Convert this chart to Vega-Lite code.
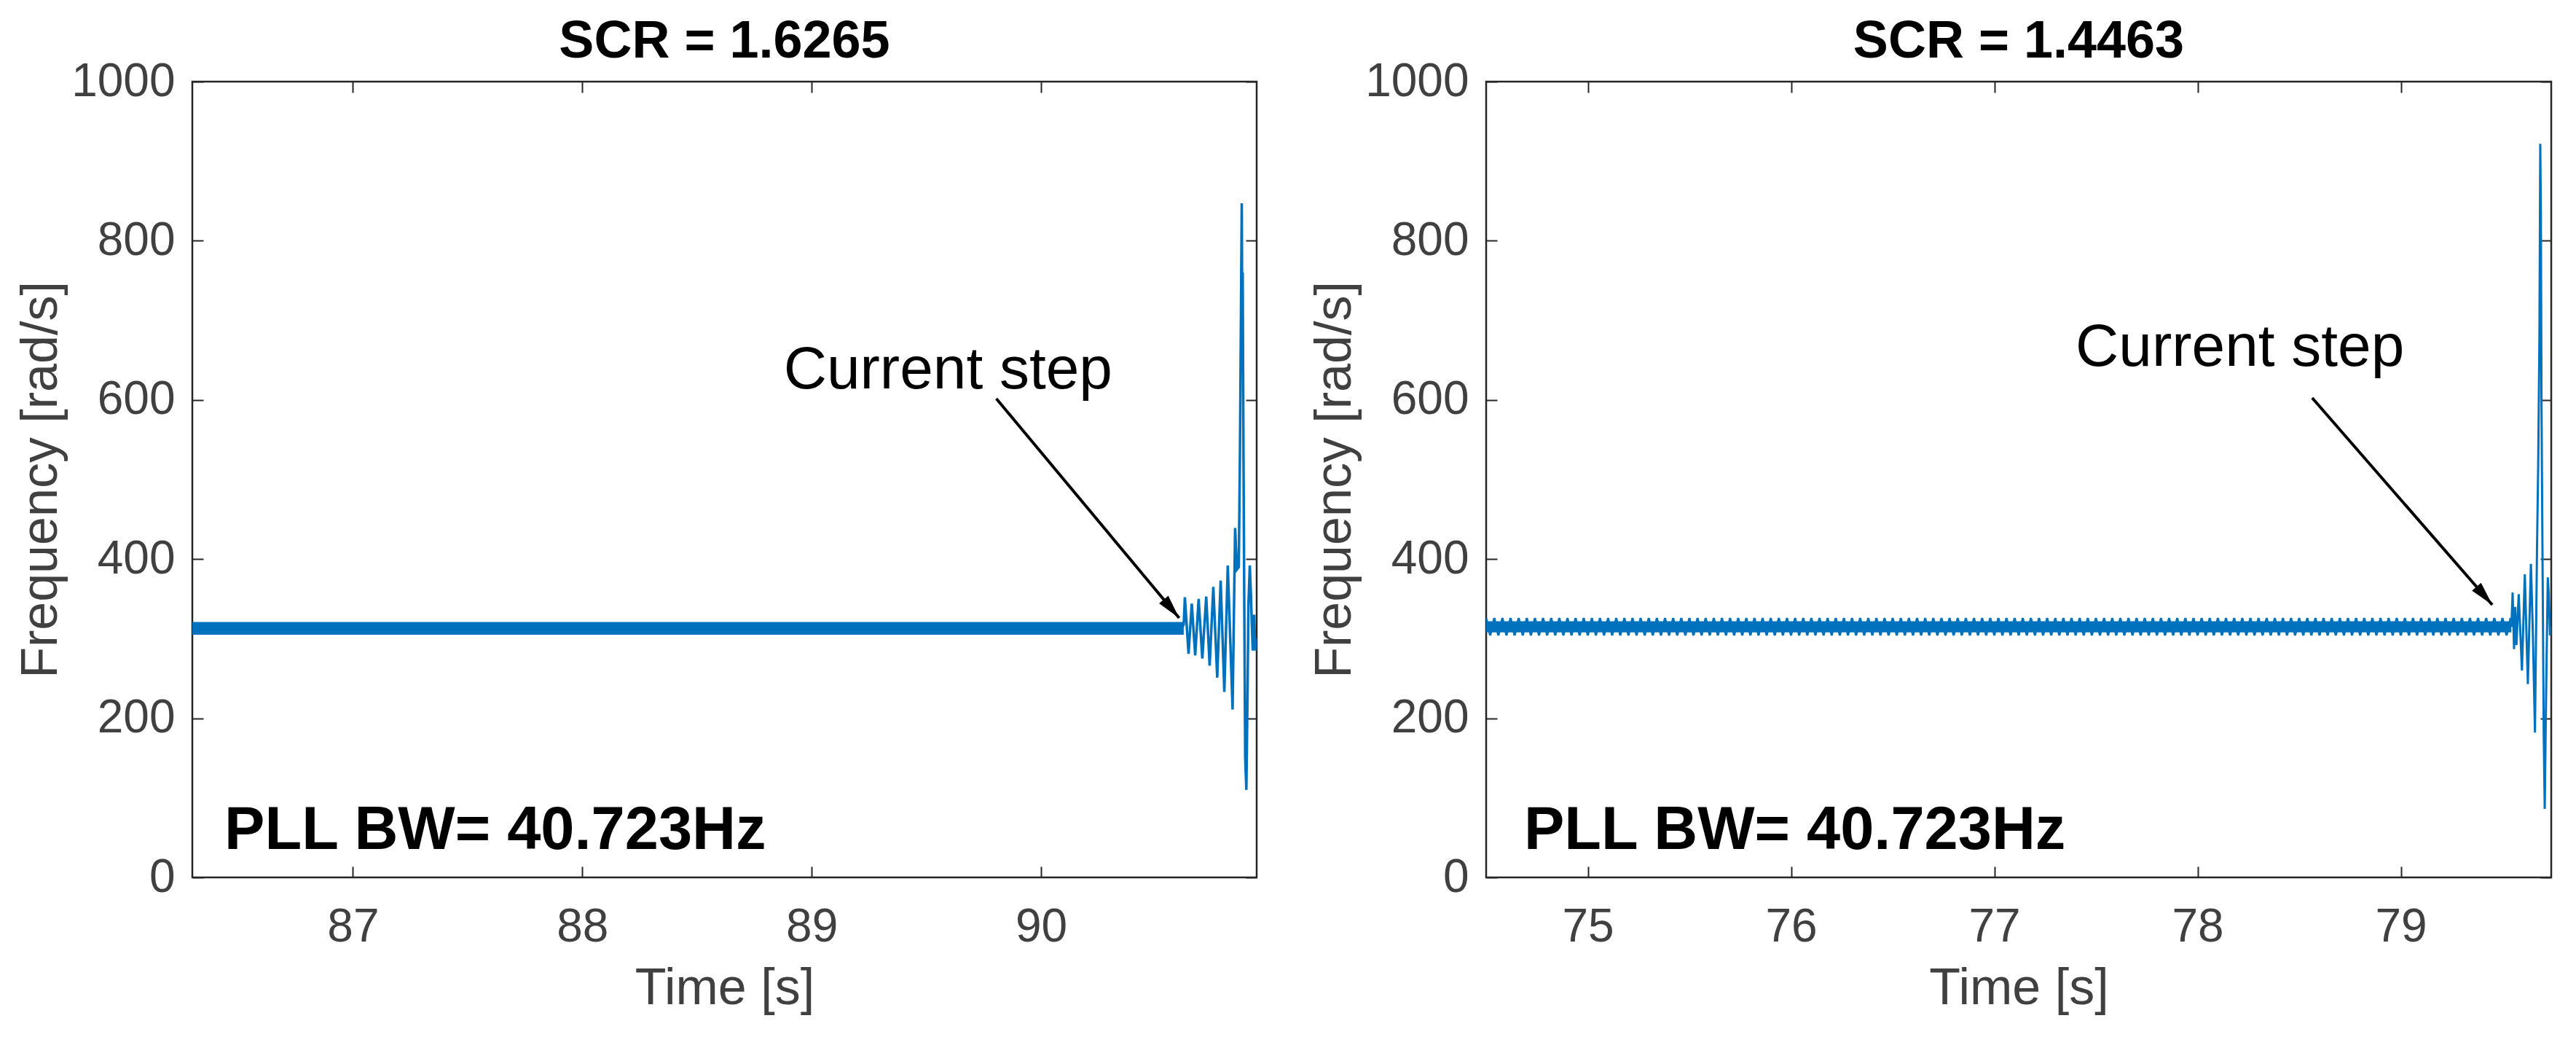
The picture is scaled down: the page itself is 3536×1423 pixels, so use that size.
{
  "$schema": "https://vega.github.io/schema/vega-lite/v6.json",
  "background": "white",
  "padding": {"left": 20, "top": 19, "right": 0, "bottom": 0},
  "spacing": 68,
  "config": {
    "font": "Liberation Sans",
    "view": {"stroke": "#262626", "strokeWidth": 2.5},
    "axis": {"domain": false, "grid": false, "ticks": true, "tickSize": -15, "tickWidth": 2, "tickColor": "#262626",
      "labelFont": "Liberation Sans", "labelFontSize": 64, "labelColor": "#404040",
      "titleFont": "Liberation Sans", "titleFontSize": 70, "titleFontWeight": "normal", "titleColor": "#404040"},
    "title": {"font": "Liberation Sans", "fontSize": 72, "fontWeight": "bold", "color": "#000000", "offset": -14}
  },
  "hconcat": [
    {
      "width": 1461, "height": 1092,
      "title": {"text": "SCR = 1.6265"},
      "layer": [
        {
          "data": {"values": [{"t": 86.3, "lo": 305, "hi": 321}, {"t": 90.622, "lo": 305, "hi": 321}]},
          "mark": {"type": "area", "color": "#0072BD", "clip": true},
          "encoding": {
            "x": {"field": "t", "type": "quantitative", "scale": {"domain": [86.3, 90.94], "nice": false, "zero": false},
              "axis": {"orient": "bottom", "values": [87, 88, 89, 90], "format": "d", "labelPadding": 51, "title": "Time [s]", "titlePadding": 18}},
            "y": {"field": "lo", "type": "quantitative", "scale": {"domain": [0, 1000], "nice": false},
              "axis": {"orient": "left", "values": [0, 200, 400, 600, 800, 1000], "format": "d", "labelPadding": 39, "title": "Frequency [rad/s]", "titlePadding": 5}},
            "y2": {"field": "hi"}
          }
        },
        {
          "data": {"values": [
            {"t": 90.615, "f": 314}, {"t": 90.622, "f": 318}, {"t": 90.627, "f": 352}, {"t": 90.643, "f": 281},
            {"t": 90.657, "f": 344}, {"t": 90.672, "f": 279}, {"t": 90.687, "f": 350}, {"t": 90.703, "f": 275},
            {"t": 90.72, "f": 353}, {"t": 90.735, "f": 266}, {"t": 90.751, "f": 365}, {"t": 90.768, "f": 251},
            {"t": 90.783, "f": 373}, {"t": 90.799, "f": 233}, {"t": 90.814, "f": 392}, {"t": 90.835, "f": 211},
            {"t": 90.846, "f": 439}, {"t": 90.854, "f": 387}, {"t": 90.862, "f": 390}, {"t": 90.867, "f": 531},
            {"t": 90.872, "f": 726}, {"t": 90.875, "f": 847}, {"t": 90.877, "f": 700}, {"t": 90.879, "f": 760},
            {"t": 90.882, "f": 560}, {"t": 90.886, "f": 342}, {"t": 90.89, "f": 150}, {"t": 90.895, "f": 110},
            {"t": 90.9, "f": 227}, {"t": 90.904, "f": 342}, {"t": 90.91, "f": 392}, {"t": 90.915, "f": 355},
            {"t": 90.919, "f": 317}, {"t": 90.923, "f": 285}, {"t": 90.929, "f": 330}, {"t": 90.934, "f": 285},
            {"t": 90.94, "f": 300}
          ]},
          "mark": {"type": "line", "color": "#0072BD", "strokeWidth": 3.5, "clip": true},
          "encoding": {
            "x": {"field": "t", "type": "quantitative", "axis": {"orient": "top", "values": [87, 88, 89, 90], "labels": false, "title": null}},
            "y": {"field": "f", "type": "quantitative", "axis": {"orient": "right", "values": [0, 200, 400, 600, 800, 1000], "labels": false, "title": null}}
          }
        },
        {
          "data": {"values": [{"t": 89.805, "f": 601.6, "t2": 90.602, "f2": 326}]},
          "mark": {"type": "rule", "color": "black", "strokeWidth": 4},
          "encoding": {
            "x": {"field": "t", "type": "quantitative", "axis": null},
            "y": {"field": "f", "type": "quantitative", "axis": null},
            "x2": {"field": "t2"}, "y2": {"field": "f2"}
          }
        },
        {
          "data": {"values": [{"t": 90.602, "f": 326}]},
          "mark": {"type": "point", "shape": "M0,0L0.25,1L-0.25,1Z", "filled": true, "color": "black", "opacity": 1, "size": 4356, "angle": 140},
          "encoding": {
            "x": {"field": "t", "type": "quantitative", "axis": null},
            "y": {"field": "f", "type": "quantitative", "axis": null}
          }
        },
        {
          "data": {"values": [{"t": 88.878, "f": 614.5, "label": "Current step"}]},
          "mark": {"type": "text", "align": "left", "baseline": "alphabetic", "fontSize": 82, "font": "Liberation Sans", "color": "black"},
          "encoding": {
            "x": {"field": "t", "type": "quantitative", "axis": null},
            "y": {"field": "f", "type": "quantitative", "axis": null},
            "text": {"field": "label"}
          }
        },
        {
          "data": {"values": [{"t": 86.44, "f": 35.7, "label": "PLL BW= 40.723Hz"}]},
          "mark": {"type": "text", "align": "left", "baseline": "alphabetic", "fontSize": 83, "fontWeight": "bold", "font": "Liberation Sans", "color": "black"},
          "encoding": {
            "x": {"field": "t", "type": "quantitative", "axis": null},
            "y": {"field": "f", "type": "quantitative", "axis": null},
            "text": {"field": "label"}
          }
        }
      ],
      "resolve": {"axis": {"x": "independent", "y": "independent"}}
    },
    {
      "width": 1462, "height": 1092,
      "title": {"text": "SCR = 1.4463"},
      "layer": [
        {
          "data": {"values": [{"t": 74.5, "lo": 308, "hi": 322}, {"t": 79.544, "lo": 308, "hi": 322}]},
          "mark": {"type": "area", "color": "#0072BD", "clip": true},
          "encoding": {
            "x": {"field": "t", "type": "quantitative", "scale": {"domain": [74.5, 79.74], "nice": false, "zero": false},
              "axis": {"orient": "bottom", "values": [75, 76, 77, 78, 79], "format": "d", "labelPadding": 51, "title": "Time [s]", "titlePadding": 18}},
            "y": {"field": "lo", "type": "quantitative", "scale": {"domain": [0, 1000], "nice": false},
              "axis": {"orient": "left", "values": [0, 200, 400, 600, 800, 1000], "format": "d", "labelPadding": 39, "title": "Frequency [rad/s]", "titlePadding": 5}},
            "y2": {"field": "hi"}
          }
        },
        {
          "data": {"values": [
            {"t":74.50,"f":326},{"t":74.52,"f":304},{"t":74.54,"f":326},{"t":74.56,"f":304},{"t":74.58,"f":326},{"t":74.60,"f":304},{"t":74.62,"f":326},{"t":74.64,"f":304},{"t":74.66,"f":326},{"t":74.68,"f":304},{"t":74.70,"f":326},{"t":74.72,"f":304},{"t":74.74,"f":326},{"t":74.76,"f":304},{"t":74.78,"f":326},{"t":74.80,"f":304},{"t":74.82,"f":326},{"t":74.84,"f":304},{"t":74.86,"f":326},{"t":74.88,"f":304},{"t":74.90,"f":326},{"t":74.92,"f":304},{"t":74.94,"f":326},{"t":74.96,"f":304},{"t":74.98,"f":326},
            {"t":75.00,"f":304},{"t":75.02,"f":326},{"t":75.04,"f":304},{"t":75.06,"f":326},{"t":75.08,"f":304},{"t":75.10,"f":326},{"t":75.12,"f":304},{"t":75.14,"f":326},{"t":75.16,"f":304},{"t":75.18,"f":326},{"t":75.20,"f":304},{"t":75.22,"f":326},{"t":75.24,"f":304},{"t":75.26,"f":326},{"t":75.28,"f":304},{"t":75.30,"f":326},{"t":75.32,"f":304},{"t":75.34,"f":326},{"t":75.36,"f":304},{"t":75.38,"f":326},{"t":75.40,"f":304},{"t":75.42,"f":326},{"t":75.44,"f":304},{"t":75.46,"f":326},{"t":75.48,"f":304},{"t":75.50,"f":326},{"t":75.52,"f":304},{"t":75.54,"f":326},{"t":75.56,"f":304},{"t":75.58,"f":326},{"t":75.60,"f":304},{"t":75.62,"f":326},{"t":75.64,"f":304},{"t":75.66,"f":326},{"t":75.68,"f":304},{"t":75.70,"f":326},{"t":75.72,"f":304},{"t":75.74,"f":326},{"t":75.76,"f":304},{"t":75.78,"f":326},{"t":75.80,"f":304},{"t":75.82,"f":326},{"t":75.84,"f":304},{"t":75.86,"f":326},{"t":75.88,"f":304},{"t":75.90,"f":326},{"t":75.92,"f":304},{"t":75.94,"f":326},{"t":75.96,"f":304},{"t":75.98,"f":326},
            {"t":76.00,"f":304},{"t":76.02,"f":326},{"t":76.04,"f":304},{"t":76.06,"f":326},{"t":76.08,"f":304},{"t":76.10,"f":326},{"t":76.12,"f":304},{"t":76.14,"f":326},{"t":76.16,"f":304},{"t":76.18,"f":326},{"t":76.20,"f":304},{"t":76.22,"f":326},{"t":76.24,"f":304},{"t":76.26,"f":326},{"t":76.28,"f":304},{"t":76.30,"f":326},{"t":76.32,"f":304},{"t":76.34,"f":326},{"t":76.36,"f":304},{"t":76.38,"f":326},{"t":76.40,"f":304},{"t":76.42,"f":326},{"t":76.44,"f":304},{"t":76.46,"f":326},{"t":76.48,"f":304},{"t":76.50,"f":326},{"t":76.52,"f":304},{"t":76.54,"f":326},{"t":76.56,"f":304},{"t":76.58,"f":326},{"t":76.60,"f":304},{"t":76.62,"f":326},{"t":76.64,"f":304},{"t":76.66,"f":326},{"t":76.68,"f":304},{"t":76.70,"f":326},{"t":76.72,"f":304},{"t":76.74,"f":326},{"t":76.76,"f":304},{"t":76.78,"f":326},{"t":76.80,"f":304},{"t":76.82,"f":326},{"t":76.84,"f":304},{"t":76.86,"f":326},{"t":76.88,"f":304},{"t":76.90,"f":326},{"t":76.92,"f":304},{"t":76.94,"f":326},{"t":76.96,"f":304},{"t":76.98,"f":326},
            {"t":77.00,"f":304},{"t":77.02,"f":326},{"t":77.04,"f":304},{"t":77.06,"f":326},{"t":77.08,"f":304},{"t":77.10,"f":326},{"t":77.12,"f":304},{"t":77.14,"f":326},{"t":77.16,"f":304},{"t":77.18,"f":326},{"t":77.20,"f":304},{"t":77.22,"f":326},{"t":77.24,"f":304},{"t":77.26,"f":326},{"t":77.28,"f":304},{"t":77.30,"f":326},{"t":77.32,"f":304},{"t":77.34,"f":326},{"t":77.36,"f":304},{"t":77.38,"f":326},{"t":77.40,"f":304},{"t":77.42,"f":326},{"t":77.44,"f":304},{"t":77.46,"f":326},{"t":77.48,"f":304},{"t":77.50,"f":326},{"t":77.52,"f":304},{"t":77.54,"f":326},{"t":77.56,"f":304},{"t":77.58,"f":326},{"t":77.60,"f":304},{"t":77.62,"f":326},{"t":77.64,"f":304},{"t":77.66,"f":326},{"t":77.68,"f":304},{"t":77.70,"f":326},{"t":77.72,"f":304},{"t":77.74,"f":326},{"t":77.76,"f":304},{"t":77.78,"f":326},{"t":77.80,"f":304},{"t":77.82,"f":326},{"t":77.84,"f":304},{"t":77.86,"f":326},{"t":77.88,"f":304},{"t":77.90,"f":326},{"t":77.92,"f":304},{"t":77.94,"f":326},{"t":77.96,"f":304},{"t":77.98,"f":326},
            {"t":78.00,"f":304},{"t":78.02,"f":326},{"t":78.04,"f":304},{"t":78.06,"f":326},{"t":78.08,"f":304},{"t":78.10,"f":326},{"t":78.12,"f":304},{"t":78.14,"f":326},{"t":78.16,"f":304},{"t":78.18,"f":326},{"t":78.20,"f":304},{"t":78.22,"f":326},{"t":78.24,"f":304},{"t":78.26,"f":326},{"t":78.28,"f":304},{"t":78.30,"f":326},{"t":78.32,"f":304},{"t":78.34,"f":326},{"t":78.36,"f":304},{"t":78.38,"f":326},{"t":78.40,"f":304},{"t":78.42,"f":326},{"t":78.44,"f":304},{"t":78.46,"f":326},{"t":78.48,"f":304},{"t":78.50,"f":326},{"t":78.52,"f":304},{"t":78.54,"f":326},{"t":78.56,"f":304},{"t":78.58,"f":326},{"t":78.60,"f":304},{"t":78.62,"f":326},{"t":78.64,"f":304},{"t":78.66,"f":326},{"t":78.68,"f":304},{"t":78.70,"f":326},{"t":78.72,"f":304},{"t":78.74,"f":326},{"t":78.76,"f":304},{"t":78.78,"f":326},{"t":78.80,"f":304},{"t":78.82,"f":326},{"t":78.84,"f":304},{"t":78.86,"f":326},{"t":78.88,"f":304},{"t":78.90,"f":326},{"t":78.92,"f":304},{"t":78.94,"f":326},{"t":78.96,"f":304},{"t":78.98,"f":326},
            {"t":79.00,"f":304},{"t":79.02,"f":326},{"t":79.04,"f":304},{"t":79.06,"f":326},{"t":79.08,"f":304},{"t":79.10,"f":326},{"t":79.12,"f":304},{"t":79.14,"f":326},{"t":79.16,"f":304},{"t":79.18,"f":326},{"t":79.20,"f":304},{"t":79.22,"f":326},{"t":79.24,"f":304},{"t":79.26,"f":326},{"t":79.28,"f":304},{"t":79.30,"f":326},{"t":79.32,"f":304},{"t":79.34,"f":326},{"t":79.36,"f":304},{"t":79.38,"f":326},{"t":79.40,"f":304},{"t":79.42,"f":326},{"t":79.44,"f":304},{"t":79.46,"f":326},{"t":79.48,"f":304},{"t":79.50,"f":326},{"t":79.52,"f":304},{"t":79.54,"f":326},
            {"t":79.544,"f":315},{"t":79.55,"f":358},{"t":79.557,"f":287},{"t":79.563,"f":340},{"t":79.569,"f":292},{"t":79.58,"f":356},{"t":79.596,"f":260},{"t":79.61,"f":381},{"t":79.625,"f":243},{"t":79.64,"f":394},{"t":79.65,"f":304},{"t":79.66,"f":182},{"t":79.67,"f":413},{"t":79.676,"f":521},{"t":79.682,"f":681},{"t":79.686,"f":922},{"t":79.689,"f":840},{"t":79.692,"f":600},{"t":79.697,"f":407},{"t":79.703,"f":182},{"t":79.708,"f":86},{"t":79.714,"f":214},{"t":79.723,"f":377},{"t":79.728,"f":355},{"t":79.734,"f":304},{"t":79.74,"f":315}
          ]},
          "mark": {"type": "line", "color": "#0072BD", "strokeWidth": 3, "clip": true},
          "encoding": {
            "x": {"field": "t", "type": "quantitative", "axis": {"orient": "top", "values": [75, 76, 77, 78, 79], "labels": false, "title": null}},
            "y": {"field": "f", "type": "quantitative", "axis": {"orient": "right", "values": [0, 200, 400, 600, 800, 1000], "labels": false, "title": null}}
          }
        },
        {
          "data": {"values": [{"t": 78.564, "f": 602.6, "t2": 79.45, "f2": 342.5}]},
          "mark": {"type": "rule", "color": "black", "strokeWidth": 4},
          "encoding": {
            "x": {"field": "t", "type": "quantitative", "axis": null},
            "y": {"field": "f", "type": "quantitative", "axis": null},
            "x2": {"field": "t2"}, "y2": {"field": "f2"}
          }
        },
        {
          "data": {"values": [{"t": 79.45, "f": 342.5}]},
          "mark": {"type": "point", "shape": "M0,0L0.25,1L-0.25,1Z", "filled": true, "color": "black", "opacity": 1, "size": 4356, "angle": 139},
          "encoding": {
            "x": {"field": "t", "type": "quantitative", "axis": null},
            "y": {"field": "f", "type": "quantitative", "axis": null}
          }
        },
        {
          "data": {"values": [{"t": 77.4, "f": 642.9, "label": "Current step"}]},
          "mark": {"type": "text", "align": "left", "baseline": "alphabetic", "fontSize": 82, "font": "Liberation Sans", "color": "black"},
          "encoding": {
            "x": {"field": "t", "type": "quantitative", "axis": null},
            "y": {"field": "f", "type": "quantitative", "axis": null},
            "text": {"field": "label"}
          }
        },
        {
          "data": {"values": [{"t": 74.686, "f": 35.7, "label": "PLL BW= 40.723Hz"}]},
          "mark": {"type": "text", "align": "left", "baseline": "alphabetic", "fontSize": 83, "fontWeight": "bold", "font": "Liberation Sans", "color": "black"},
          "encoding": {
            "x": {"field": "t", "type": "quantitative", "axis": null},
            "y": {"field": "f", "type": "quantitative", "axis": null},
            "text": {"field": "label"}
          }
        }
      ],
      "resolve": {"axis": {"x": "independent", "y": "independent"}}
    }
  ]
}
